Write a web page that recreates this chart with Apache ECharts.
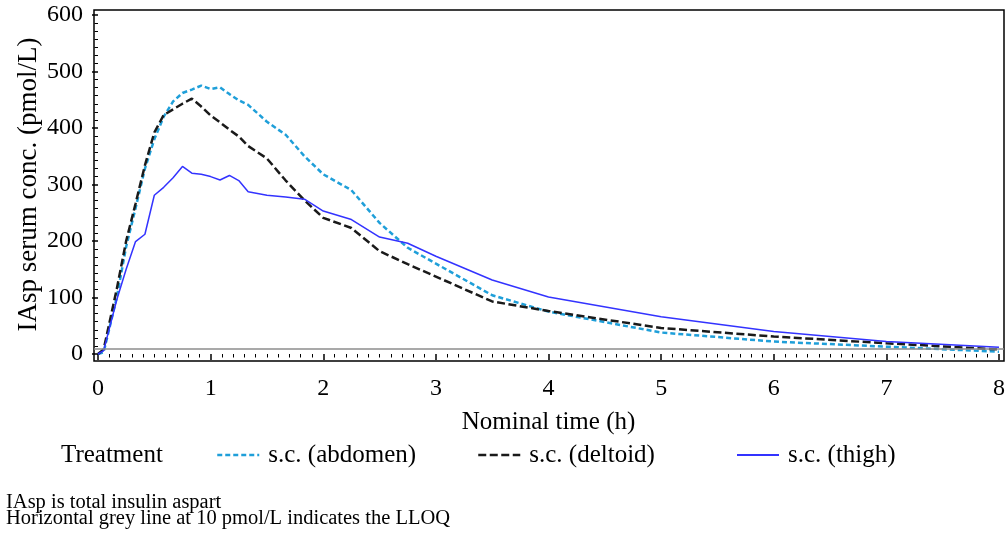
<!DOCTYPE html>
<html>
<head>
<meta charset="utf-8">
<script src="https://cdn.jsdelivr.net/npm/echarts@6/dist/echarts.min.js"></script>
<style>
  html, body { margin: 0; padding: 0; background: #fff; }
  #chart { width: 1008px; height: 533px; }
</style>
</head>
<body>
<div id="chart"></div>
<script>
// Nominal sampling times (h)
const hours = [0, 0.05, 0.1667, 0.25, 0.3333, 0.4167, 0.5, 0.5833, 0.6667, 0.75,
  0.8333, 0.9167, 1, 1.0833, 1.1667, 1.25, 1.3333, 1.5, 1.6667, 1.8333,
  2, 2.25, 2.5, 2.75, 3, 3.5, 4, 5, 6, 7, 8];

// Mean IAsp serum concentration (pmol/L) by injection site
const abdomen = [0, 3, 100, 190, 258, 328, 380, 420, 447, 462,
  468, 475, 469, 472, 460, 449, 441, 411, 388, 350,
  318, 290, 232, 188, 160, 104, 75, 38, 22, 13, 4];
const deltoid = [0, 8, 115, 200, 266, 334, 392, 423, 433, 443,
  452, 438, 422, 410, 397, 385, 368, 346, 307, 272,
  241, 223, 182, 159, 137, 93, 76, 46, 31, 19, 8];
const thigh = [0, 6, 96, 150, 199, 212, 281, 295, 312, 332,
  320, 318, 314, 308, 316, 307, 287, 281, 278, 274,
  253, 238, 207, 196, 173, 131, 101, 66, 40, 22, 12];

const seriesNames = ['s.c. (abdomen)', 's.c. (deltoid)', 's.c. (thigh)'];
const lloq = 10;

const FONT = 'Liberation Serif';
const pairs = vals => hours.map((t, i) => [t, vals[i]]);

const chart = echarts.init(document.getElementById('chart'), null, { renderer: 'canvas' });

const legendBase = {
  orient: 'horizontal',
  top: 441,
  padding: 0,
  itemWidth: 42,
  itemHeight: 14,
  // line sample only, no marker in the key
  itemStyle: { color: 'transparent', borderColor: 'transparent', borderWidth: 0, opacity: 0 },
  textStyle: { fontFamily: FONT, fontSize: 25, color: '#000', lineHeight: 28, padding: [0, 0, 0, 4] },
  selectedMode: false
};

chart.setOption({
  animation: false,
  backgroundColor: '#fff',
  title: [
    {
      text: 'Treatment',
      left: 61, top: 441, padding: 0,
      textStyle: { fontFamily: FONT, fontSize: 25, fontWeight: 'normal', color: '#000', lineHeight: 28 }
    },
    {
      text: 'IAsp is total insulin aspart\nHorizontal grey line at 10 pmol/L indicates the LLOQ',
      left: 6, top: 495, padding: 0,
      textStyle: { fontFamily: FONT, fontSize: 20.5, fontWeight: 'normal', color: '#000', lineHeight: 16 }
    }
  ],
  legend: [
    Object.assign({}, legendBase, { left: 216, data: [seriesNames[0]], lineStyle: { width: 2.5 } }),
    Object.assign({}, legendBase, { left: 477, data: [seriesNames[1]], lineStyle: { width: 2.5 } }),
    Object.assign({}, legendBase, { left: 736, data: [seriesNames[2]], lineStyle: { width: 2 } })
  ],
  grid: [
    // data area: 0..8 h, 0..600 pmol/L
    { left: 98, right: 6.5, top: 15, bottom: 179, show: false },
    // surrounding frame
    { left: 94, right: 4, top: 10, bottom: 172, show: true, borderColor: '#000', borderWidth: 1.5, backgroundColor: 'transparent' }
  ],
  xAxis: [
    {
      gridIndex: 0, type: 'value', min: 0, max: 8, interval: 1,
      offset: 7,
      name: 'Nominal time (h)', nameLocation: 'middle', nameGap: 49, nameMoveOverlap: false,
      nameTextStyle: { fontFamily: FONT, fontSize: 25, color: '#000' },
      axisLine: { show: false },
      axisTick: { show: true, inside: false, length: 6, lineStyle: { color: '#000', width: 1.5 } },
      minorTick: { show: true, splitNumber: 10, length: 3.5, lineStyle: { color: '#000', width: 1 } },
      axisLabel: { fontFamily: FONT, fontSize: 24, color: '#000', margin: 16 },
      splitLine: { show: false }
    },
    { gridIndex: 1, type: 'value', min: -0.0354, max: 8.022, show: false }
  ],
  yAxis: [
    {
      gridIndex: 0, type: 'value', min: 0, max: 600, interval: 100,
      offset: 4,
      name: 'IAsp serum conc. (pmol/L)', nameLocation: 'middle', nameGap: 52, nameMoveOverlap: false,
      nameTextStyle: { fontFamily: FONT, fontSize: 27, color: '#000' },
      axisLine: { show: false },
      axisTick: { show: true, inside: false, length: 6, lineStyle: { color: '#000', width: 1.5 } },
      minorTick: { show: true, splitNumber: 7, length: 3.5, lineStyle: { color: '#000', width: 1 } },
      axisLabel: { fontFamily: FONT, fontSize: 24, color: '#000', margin: 11 },
      splitLine: { show: false }
    },
    { gridIndex: 1, type: 'value', min: -12.4, max: 608.8, show: false }
  ],
  series: [
    {
      name: 'LLOQ', type: 'line', xAxisIndex: 1, yAxisIndex: 1, data: [],
      silent: true,
      markLine: {
        silent: true, symbol: 'none', animation: false,
        label: { show: false },
        lineStyle: { color: '#8c8c8c', width: 1.5, type: 'solid' },
        data: [{ yAxis: lloq }]
      }
    },
    {
      name: seriesNames[0], type: 'line', xAxisIndex: 0, yAxisIndex: 0,
      data: pairs(abdomen), symbol: 'none', clip: false,
      itemStyle: { color: '#1f9fd9' },
      lineStyle: { color: '#1f9fd9', width: 2.5, type: [5, 3] }
    },
    {
      name: seriesNames[1], type: 'line', xAxisIndex: 0, yAxisIndex: 0,
      data: pairs(deltoid), symbol: 'none', clip: false,
      itemStyle: { color: '#1a1a1a' },
      lineStyle: { color: '#1a1a1a', width: 2.5, type: [8, 3.5] }
    },
    {
      name: seriesNames[2], type: 'line', xAxisIndex: 0, yAxisIndex: 0,
      data: pairs(thigh), symbol: 'none', clip: false,
      itemStyle: { color: '#3333ff' },
      lineStyle: { color: '#3333ff', width: 1.5, type: 'solid' }
    }
  ]
});
</script>
</body>
</html>
